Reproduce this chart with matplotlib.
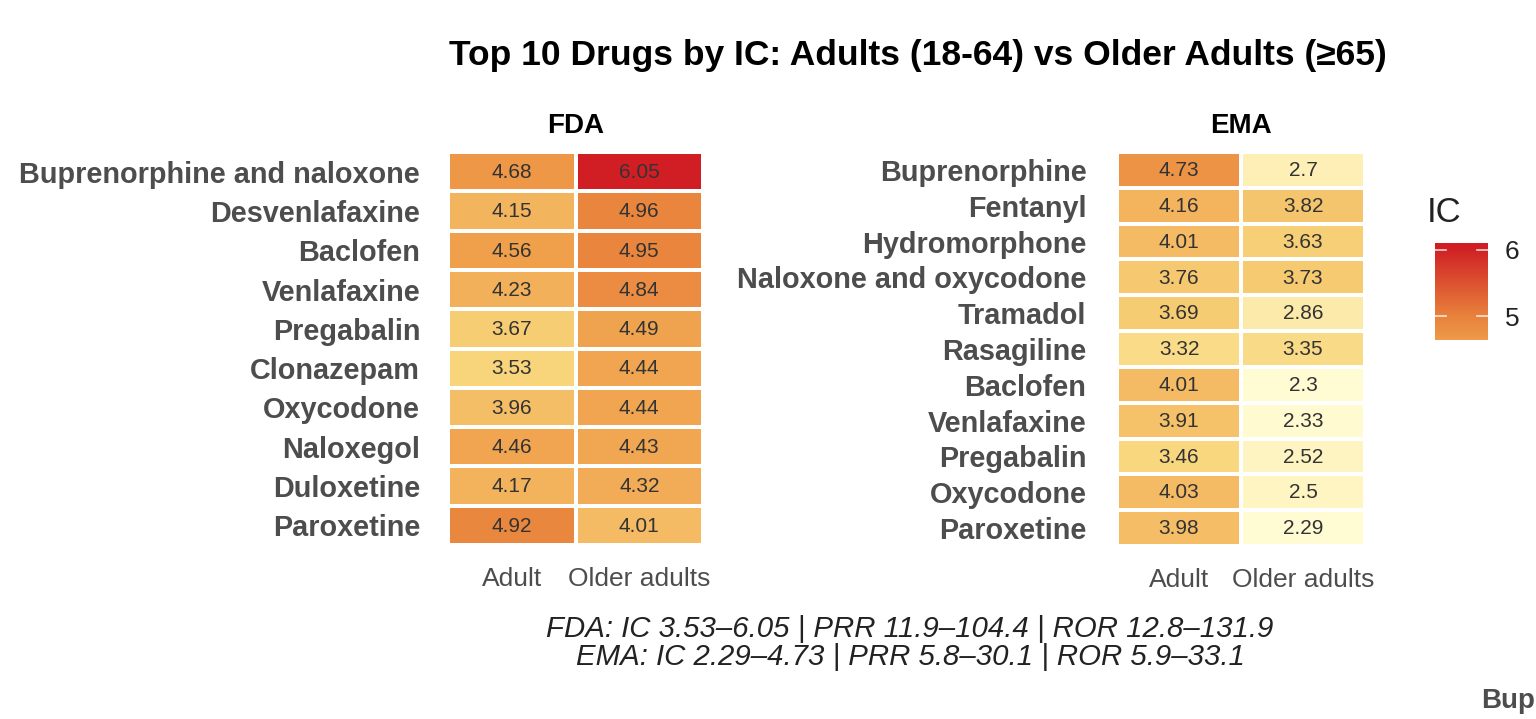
import numpy as np
import matplotlib
matplotlib.use("Agg")
import matplotlib.pyplot as plt
from matplotlib.colors import LinearSegmentedColormap, Normalize

plt.rcParams['font.family'] = ['Liberation Sans', 'DejaVu Sans']

# data
fda_drugs = ["Buprenorphine and naloxone", "Desvenlafaxine", "Baclofen", "Venlafaxine",
             "Pregabalin", "Clonazepam", "Oxycodone", "Naloxegol", "Duloxetine", "Paroxetine"]
fda_adult = [4.68, 4.15, 4.56, 4.23, 3.67, 3.53, 3.96, 4.46, 4.17, 4.92]
fda_older = [6.05, 4.96, 4.95, 4.84, 4.49, 4.44, 4.44, 4.43, 4.32, 4.01]

ema_drugs = ["Buprenorphine", "Fentanyl", "Hydromorphone", "Naloxone and oxycodone",
             "Tramadol", "Rasagiline", "Baclofen", "Venlafaxine", "Pregabalin",
             "Oxycodone", "Paroxetine"]
ema_adult = [4.73, 4.16, 4.01, 3.76, 3.69, 3.32, 4.01, 3.91, 3.46, 4.03, 3.98]
ema_older = [2.7, 3.82, 3.63, 3.73, 2.86, 3.35, 2.3, 2.33, 2.52, 2.5, 2.29]

groups = ["Adult", "Older adults"]
colorbar_ticks = [5, 6]

caption = ("FDA: IC 3.53\u20136.05 | PRR 11.9\u2013104.4 | ROR 12.8\u2013131.9\n"
           "EMA: IC 2.29\u20134.73 | PRR 5.8\u201330.1 | ROR 5.9\u201333.1")

vmin = min(min(fda_adult), min(fda_older), min(ema_adult), min(ema_older))
vmax = max(max(fda_adult), max(fda_older), max(ema_adult), max(ema_older))

cmap = LinearSegmentedColormap.from_list(
    "ic", [(0.0, "#FFFBD2"), (0.32, "#F8D67C"), (0.6, "#F0A04C"),
           (0.72, "#E8823C"), (1.0, "#D01E24")])
norm = Normalize(vmin=vmin, vmax=vmax)

W, H = 1536, 719
fig = plt.figure(figsize=(W / 100, H / 100), dpi=100)


def px_axes(x0, y0, x1, y1):
    return fig.add_axes([x0 / W, 1 - y1 / H, (x1 - x0) / W, (y1 - y0) / H])


def heat(ax, drugs, adult, older, title, lab_pad):
    vals = np.array([adult, older]).T
    n = len(drugs)
    ax.pcolormesh(np.arange(3), np.arange(n + 1), vals, cmap=cmap, norm=norm,
                  edgecolors="white", linewidth=1.5)
    ax.set_xlim(0, 2)
    ax.set_ylim(n, 0)
    for i in range(n):
        for j in range(2):
            ax.text(j + 0.5, i + 0.52, f"{vals[i, j]:g}", ha="center", va="center",
                    fontsize=15, color="#333333")
    ax.set_yticks(np.arange(n) + 0.5)
    ax.set_yticklabels(drugs, fontsize=20.8, fontweight="bold", color="#4D4D4D")
    ax.set_xticks([0.5, 1.5])
    ax.set_xticklabels(groups, fontsize=19, color="#4D4D4D")
    ax.tick_params(length=0)
    ax.tick_params(axis="y", pad=lab_pad)
    ax.tick_params(axis="x", pad=16)
    for s in ax.spines.values():
        s.set_visible(False)
    ax.set_title(title, fontsize=20, fontweight="bold", pad=14)


ax1 = px_axes(448, 152, 703, 545)
heat(ax1, fda_drugs, fda_adult, fda_older, "FDA", 20)
ax2 = px_axes(1117, 152, 1365, 546)
heat(ax2, ema_drugs, ema_adult, ema_older, "EMA", 22)

# colorbar (only the top part is visible)
cax = px_axes(1435, 243, 1488, 340)
grad = np.linspace(4.64, 6.1, 200).reshape(-1, 1)
cax.imshow(grad, aspect="auto", cmap=cmap, norm=norm, origin="lower",
           extent=[0, 1, 4.64, 6.1])
cax.set_xlim(0, 1)
cax.set_ylim(4.64, 6.1)
for t in colorbar_ticks:
    cax.plot([0, 0.2], [t, t], color="white", lw=1.2, alpha=0.8)
    cax.plot([0.8, 1], [t, t], color="white", lw=1.2, alpha=0.8)
cax.set_xticks([])
cax.yaxis.tick_right()
cax.set_yticks(colorbar_ticks)
cax.set_yticklabels([str(t) for t in colorbar_ticks], fontsize=19, color="#222222")
cax.tick_params(length=0, pad=12)
for s in cax.spines.values():
    s.set_visible(False)
fig.text(1427 / W, 1 - 212 / H, "IC", fontsize=25, color="#222222", va="center")

fig.text(918 / W, 1 - 55 / H, "Top 10 Drugs by IC: Adults (18-64) vs Older Adults (\u226565)",
         ha="center", va="center", fontsize=25.5, fontweight="bold")
fig.text(910 / W, 1 - 643 / H, caption, ha="center", va="center", fontsize=21.2,
         style="italic", color="#222222", linespacing=0.98)
fig.text(1481 / W, 1 - 701 / H, "Bup", fontsize=20, fontweight="bold",
         color="#4D4D4D", va="center")

fig.savefig("out.png", dpi=100)
